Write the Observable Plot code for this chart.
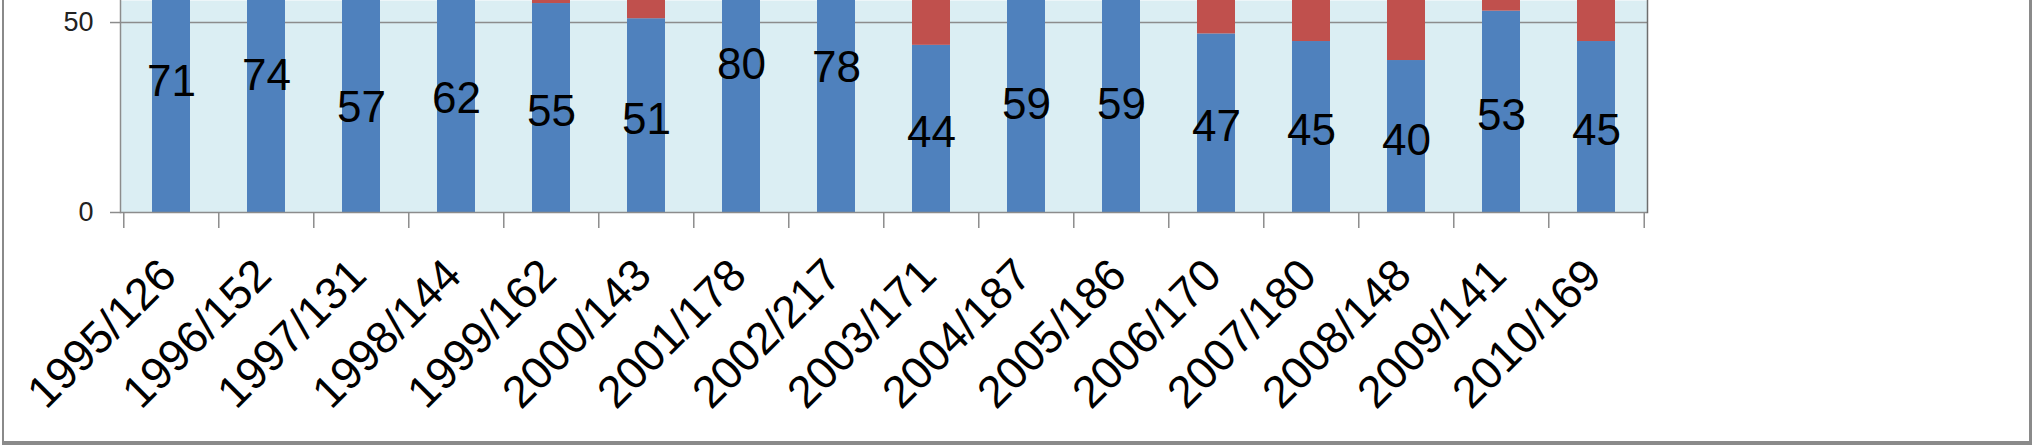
<!DOCTYPE html>
<html>
<head>
<meta charset="utf-8">
<script src="https://cdn.jsdelivr.net/npm/d3@7"></script>
<script src="https://cdn.jsdelivr.net/npm/@observablehq/plot@0.6"></script>
<style>
  html, body { margin: 0; padding: 0; background: #fff; overflow: hidden; }
  #wrap { position: relative; width: 2032px; height: 445px; }
  #border { position: absolute; left: 2px; top: -10px; width: 2025px; height: 451px;
            border-left: 2px solid #8a8a8a; border-right: 3px solid #8a8a8a; border-bottom: 4px solid #8a8a8a;
            pointer-events: none; box-sizing: content-box; }
</style>
</head>
<body>
<div id="wrap"><div id="border"></div></div>
<script>
const categories = ["1995/126","1996/152","1997/131","1998/144","1999/162","2000/143","2001/178","2002/217",
                    "2003/171","2004/187","2005/186","2006/170","2007/180","2008/148","2009/141","2010/169"];
const blueValues = [71, 74, 57, 62, 55, 51, 80, 78, 44, 59, 59, 47, 45, 40, 53, 45];
const redValues  = [29, 26, 43, 38, 45, 49, 20, 22, 56, 41, 41, 53, 55, 60, 47, 55];
const seriesNames = ["Series 1", "Series 2"];
const seriesColors = ["#4F81BD", "#C0504D"];
const yTicks = [0, 50];

const table = [];
categories.forEach((c, i) => table.push({cat: c, series: seriesNames[0], value: blueValues[i]}));
categories.forEach((c, i) => table.push({cat: c, series: seriesNames[1], value: redValues[i]}));
const labels = categories.map((c, i) => ({cat: c, value: blueValues[i]}));

const W = 2032, H = 445, ML = 120, MR = 385, MB = 233;
const step = (W - ML - MR) / categories.length;
const gray = "#8c8c8c";

const chart = Plot.plot({
  width: W, height: H,
  marginLeft: ML, marginRight: MR, marginTop: 0, marginBottom: MB,
  style: {fontFamily: "Liberation Sans, Arial, sans-serif", background: "transparent", overflow: "visible"},
  x: {type: "band", domain: categories, paddingInner: 0.6, paddingOuter: 0.3, align: 0.5, axis: null},
  y: {domain: [0, 55.8], axis: null, label: null},
  color: {domain: seriesNames, range: seriesColors},
  marks: [
    Plot.frame({fill: "#DBEEF3", stroke: null}),
    Plot.ruleY([50], {stroke: gray, strokeWidth: 1.5}),
    Plot.barY(table, Plot.stackY({x: "cat", y: "value", fill: "series", clip: true})),
    Plot.ruleY([0], {stroke: gray, strokeWidth: 1.5}),
    Plot.frame({anchor: "left", stroke: gray, strokeWidth: 1.5}),
    Plot.frame({anchor: "right", stroke: "#6e6e6e", strokeWidth: 1.5}),
    Plot.axisY(yTicks, {label: null, tickSize: 10, stroke: gray, strokeWidth: 1.5, tickFormat: () => ""}),
    Plot.text(yTicks, {y: d => d, frameAnchor: "left", textAnchor: "end", dx: -27, text: d => String(d),
                       fontSize: 27, fill: "#222"}),
    Plot.ruleX(categories, {x: d => d, y1: 0, y2: -4.2, dx: -step / 2, stroke: gray, strokeWidth: 1.5}),
    Plot.ruleX([categories[categories.length - 1]], {x: d => d, y1: 0, y2: -4.2, dx: step / 2, stroke: gray, strokeWidth: 1.5}),
    Plot.text(labels, {x: "cat", y: d => d.value / 2, text: d => String(d.value), fontSize: 44, dy: 4, fill: "#000"}),
    Plot.text(categories, {x: d => d, frameAnchor: "bottom", text: d => d, rotate: -45, textAnchor: "end",
                           lineAnchor: "middle", dx: -3, dy: 55, fontSize: 45, fill: "#000"})
  ]
});
document.getElementById("wrap").prepend(chart);
</script>
</body>
</html>
